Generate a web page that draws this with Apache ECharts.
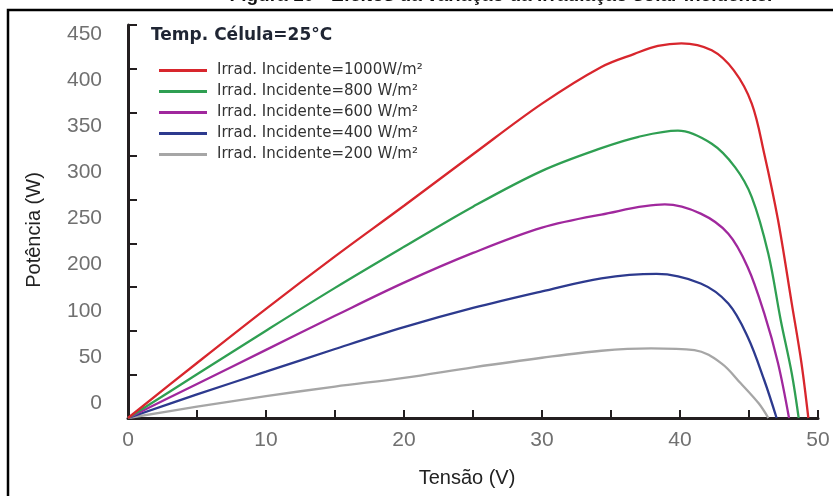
<!DOCTYPE html>
<html><head><meta charset="utf-8">
<script src="https://cdn.jsdelivr.net/npm/echarts@6/dist/echarts.min.js"></script>
<style>html,body{margin:0;padding:0;background:#fff}#c{width:833px;height:496px}</style>
</head><body><div id="c"></div>
<script>
const seriesNames = ['Irrad. Incidente=1000W/m²','Irrad. Incidente=800 W/m²','Irrad. Incidente=600 W/m²','Irrad. Incidente=400 W/m²','Irrad. Incidente=200 W/m²'];
const seriesColors = ['#d8262d','#2f9f52','#a0289d','#2d3a8e','#a6a6a6'];

const v1000 = [0,5,10,15,20,25,30,34.3,36.7,38.4,40.1,42.3,43.9,45.2,46.1,47.1,48.1,48.8,49.3];
const p1000 = [0,63,125,185,243,302,360,402,417,426,429,421,398,360,303,227,131,63,0];
const v800  = [0,5,10,15,20,25,30,34.3,37,39.85,42.3,44.0,45.2,46.4,47.3,48.1,48.6];
const p800  = [0,50,100,149,196,242,283,309,322,329,314,287,253,188,112,51,0];
const v600  = [0,5,10,15,20,25,30,34.3,38.9,41.5,43.5,44.9,46.1,47.1,47.9];
const p600  = [0,39,78,117,155,189,218,233,244.5,234,211,173,120,63,0];
const v400  = [0,5,10,15,20,25,30,34.3,38.3,41.5,43.5,44.9,46.1,47.0];
const p400  = [0,27,53,79,104,126,145,160,165,154,131,93,43.5,0];
const v200  = [0,5,10,15,20,25,30,34.3,37.9,41.05,43.0,44.4,45.7,46.4];
const p200  = [0,13,25,36,46,58,69,77,79.7,77.8,62.6,39.7,16.8,0];

const xTickLabels = ['0','10','20','30','40','50'];
const yTickLabels = ['0','50','100','200','250','300','350','400','450'];

const allV = [v1000,v800,v600,v400,v200];
const allP = [p1000,p800,p600,p400,p200];

const chart = echarts.init(document.getElementById('c'), null, {renderer:'canvas'});
const axisColor = '#231f20';
const labelFont = 'Liberation Sans';

chart.setOption({
  animation:false,
  backgroundColor:'#fff',
  title:{
    text:'Temp. Célula=25°C', left:151, top:27, padding:0,
    textStyle:{fontSize:17, fontWeight:'bold', fontFamily:'DejaVu Sans', color:'#1f2533'}
  },
  legend:{
    orient:'vertical', left:159, top:63, padding:0,
    itemWidth:48, itemHeight:3, itemGap:6, icon:'rect',
    textStyle:{fontSize:15, lineHeight:15, fontFamily:'DejaVu Sans', color:'#333', padding:[0,0,0,5]},
    data:seriesNames
  },
  grid:[
    {left:128, right:15, top:25, bottom:78},
    {left:128, right:15, top:34, bottom:93}
  ],
  xAxis:[
    {gridIndex:0, type:'value', min:0, max:50, interval:5,
     axisLine:{show:true, lineStyle:{color:axisColor, width:3}},
     axisTick:{show:true, inside:true, length:8, lineStyle:{color:axisColor, width:2}},
     splitLine:{show:false},
     axisLabel:{margin:12, fontSize:21, color:'#707070', fontFamily:labelFont,
       formatter:v => (v % 10 === 0 ? xTickLabels[v/10] : '')}
    },
    {gridIndex:1, type:'value', min:0, max:1, show:false}
  ],
  yAxis:[
    {gridIndex:0, type:'value', min:0, max:450, interval:50,
     axisLine:{show:true, lineStyle:{color:axisColor, width:3}},
     axisTick:{show:true, inside:true, length:9, lineStyle:{color:axisColor, width:2}},
     splitLine:{show:false}, axisLabel:{show:false}
    },
    {gridIndex:1, type:'value', min:0, max:8, interval:1,
     axisLine:{show:false}, axisTick:{show:false}, splitLine:{show:false},
     axisLabel:{margin:26, fontSize:21, color:'#707070', fontFamily:labelFont,
       formatter:v => yTickLabels[v]}
    }
  ],
  series: seriesNames.map((name,i) => ({
    name, type:'line', xAxisIndex:0, yAxisIndex:0,
    data: allV[i].map((v,j) => [v, allP[i][j]]),
    smooth:0.35, smoothConstraint:false, showSymbol:false, symbol:'none',
    lineStyle:{width:2.3, color:seriesColors[i]}, itemStyle:{color:seriesColors[i]},
    z: 10 - i
  })),
  graphic:[
    {type:'rect', shape:{x:8, y:10, width:850, height:520},
     style:{fill:'none', stroke:'#000', lineWidth:2.5}, silent:true},
    {type:'text', x:501, y:-4,
     style:{text:'Figura 10 - Efeitos da variação da irradiação solar incidente.', fontSize:19, fontWeight:'bold',
       fontFamily:'Liberation Sans', fill:'#111', align:'center', verticalAlign:'middle'}},
    {type:'text', x:34, y:230, rotation:Math.PI/2,
     style:{text:'Potência (W)', fontSize:20, fontFamily:'Liberation Sans', fill:'#222', align:'center', verticalAlign:'middle'}},
    {type:'text', x:467, y:478,
     style:{text:'Tensão (V)', fontSize:20, fontFamily:'Liberation Sans', fill:'#222', align:'center', verticalAlign:'middle'}}
  ]
});
</script></body></html>
